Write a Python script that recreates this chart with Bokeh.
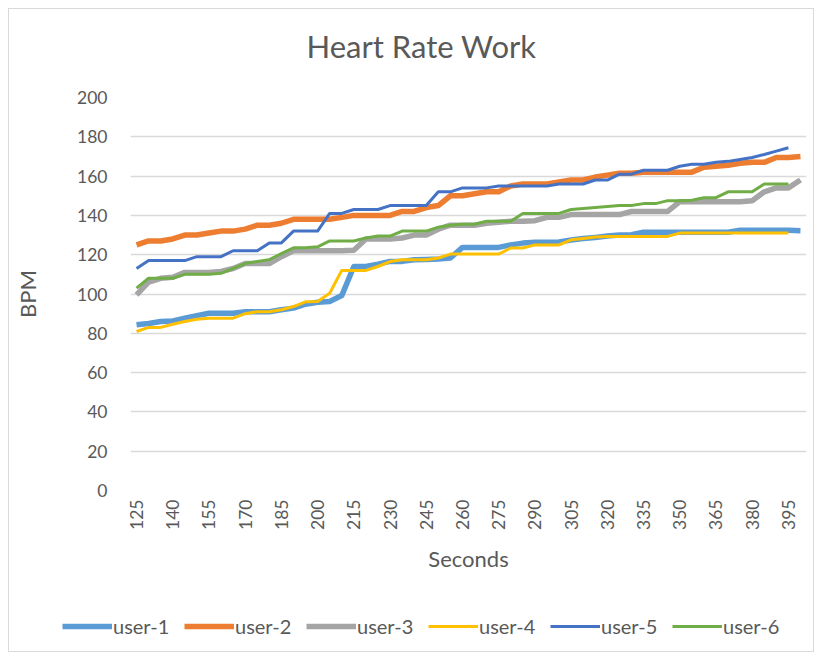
import math
from bokeh.plotting import figure
from bokeh.layouts import column
from bokeh.models import FixedTicker, Legend, LegendItem, Range1d, Label
from bokeh.embed import file_html
from bokeh.resources import INLINE

# ---- data -------------------------------------------------------------
seconds = list(range(125, 405, 5))          # 125 .. 400, every 5 s
tick_seconds = list(range(125, 400, 15))    # labelled ticks 125 .. 395
bpm_ticks = list(range(0, 201, 20))

user_1 = [84.3, 85, 86, 86.3, 87.7, 89, 90.2, 90.2, 90.2, 91,
          91, 91, 92, 92.8, 94.8, 95.8, 96.2, 99.2, 114, 114,
          115.2, 116.6, 116.6, 117.4, 117.6, 117.8, 118.3, 123.7, 123.7, 123.7,
          123.7, 125, 125.9, 126.3, 126.3, 126.5, 127.5, 128.2, 128.8, 129.5,
          130, 130.2, 131.4, 131.4, 131.4, 131.4, 131.4, 131.4, 131.4, 131.4,
          132.4, 132.4, 132.4, 132.4, 132.4, 132.2]
user_2 = [125, 127, 127, 128, 130, 130, 131, 132, 132, 133,
          135, 135, 136, 138, 138, 138, 138, 139, 140, 140,
          140, 140, 142, 142, 144, 145, 150, 150, 151, 152,
          152, 155, 156, 156, 156, 157, 158, 158, 159.5, 160.5,
          161.5, 161.5, 162, 162, 162, 162, 162, 164.5, 165, 165.5,
          166.5, 167, 167, 169.5, 169.5, 170]
user_3 = [99.5, 106, 108, 108.5, 111, 111, 111, 111.5, 113, 115.5,
          115.5, 115.5, 119, 122, 122, 122, 122, 122, 122.3, 128,
          128, 128, 128.5, 130, 130, 133, 135, 135, 135, 136,
          136.5, 137, 137, 137.3, 139, 139, 140.4, 140.4, 140.4, 140.4,
          140.4, 142, 142, 142, 142, 147, 147, 147, 147, 147,
          147, 147.5, 152, 154, 154, 158]
user_4 = [80.9, 83, 83, 84.6, 86, 87.1, 87.7, 87.7, 87.7, 90,
          91, 91, 92, 93.6, 96, 96.2, 100.4, 112, 112, 112,
          114, 116.5, 117.4, 117.4, 117.4, 118.3, 120.3, 120.3, 120.3, 120.3,
          120.3, 123.4, 123.4, 125, 125, 125, 127.6, 128.3, 129, 129.3,
          129.3, 129.3, 129.3, 129.3, 129.3, 131, 131, 131, 131, 131,
          131, 131, 131, 131, 131]
user_5 = [113, 117, 117, 117, 117, 119, 119, 119, 122, 122,
          122, 126, 126, 132, 132, 132, 141, 141, 143, 143,
          143, 145, 145, 145, 145, 152, 152, 154, 154, 154,
          155, 155, 155, 155, 155, 156, 156, 156, 158, 158,
          161, 161, 163, 163, 163, 165, 166, 166, 167, 167.5,
          168.5, 169.5, 171, 172.7, 174.4]
user_6 = [103, 108, 108, 108, 110, 110, 110, 110.5, 113, 115.5,
          116.5, 117.5, 120.5, 123.5, 123.5, 124, 127, 127, 127, 128.5,
          129.5, 129.5, 132, 132, 132, 134, 135, 135.5, 135.5, 137,
          137, 137, 141, 141, 141, 141, 143, 143.5, 144, 144.5,
          145, 145, 146, 146, 147.5, 147.5, 147.7, 149, 149, 152,
          152, 152, 156, 156, 156]

series_names = ["user-1", "user-2", "user-3", "user-4", "user-5", "user-6"]
series_values = [user_1, user_2, user_3, user_4, user_5, user_6]
series_colors = ["#5B9BD5", "#ED7D31", "#A5A5A5", "#FFC000", "#4472C4", "#70AD47"]
series_widths = [5.5, 5.5, 5.5, 3, 3, 3]

chart_title = "Heart Rate Work"
TEXT = "#595959"
FONT = "Lato"

W = 804
TITLE_H = 70

# ---- title strip ------------------------------------------------------
t = figure(width=W, height=TITLE_H, output_backend="svg", toolbar_location=None,
           x_range=Range1d(0, W), y_range=Range1d(0, TITLE_H),
           x_axis_location=None, y_axis_location=None, title=None,
           min_border_left=0, min_border_right=0, min_border_top=0, min_border_bottom=0,
           background_fill_color="white", border_fill_color="white")
t.frame_align = False
t.grid.visible = False
t.outline_line_color = None
t.add_layout(Label(x=412, y=34, text=chart_title, text_align="center",
                   text_baseline="alphabetic", text_font=FONT,
                   text_font_size="31px", text_color=TEXT))

# ---- main chart -------------------------------------------------------
p = figure(width=W, height=525, output_backend="svg", toolbar_location=None,
           x_range=Range1d(122.5, 402.5), y_range=Range1d(0, 200), title=None,
           min_border_left=121, min_border_right=7,
           min_border_top=18, min_border_bottom=114,
           background_fill_color="white", border_fill_color="white")

p.outline_line_color = None
p.xgrid.visible = False
p.ygrid.grid_line_color = "#d9d9d9"
p.ygrid.grid_line_width = 1.5

p.xaxis.ticker = FixedTicker(ticks=tick_seconds)
p.yaxis.ticker = FixedTicker(ticks=bpm_ticks)
p.xaxis.major_label_orientation = math.pi / 2
p.axis.axis_line_color = None
p.axis.major_tick_line_color = None
p.axis.minor_tick_line_color = None
p.axis.major_label_text_font = FONT
p.axis.major_label_text_font_size = "17.5px"
p.axis.major_label_text_color = TEXT
p.xaxis.major_label_standoff = 3
p.yaxis.major_label_standoff = 17

p.xaxis.axis_label = "Seconds"
p.yaxis.axis_label = "BPM"
p.axis.axis_label_text_font = FONT
p.axis.axis_label_text_font_size = "22px"
p.axis.axis_label_text_font_style = "normal"
p.axis.axis_label_text_color = TEXT
p.xaxis.axis_label_standoff = 12
p.yaxis.axis_label_standoff = 33

for name, vals, col, w in zip(series_names, series_values, series_colors, series_widths):
    p.line(seconds[:len(vals)], vals, line_color=col, line_width=w, line_join="round")

# ---- legend strip -----------------------------------------------------
q = figure(width=W, height=47, output_backend="svg", toolbar_location=None,
           x_range=Range1d(0, 1), y_range=Range1d(0, 1),
           x_axis_location=None, y_axis_location=None, title=None,
           min_border_left=0, min_border_right=0, min_border_top=0, min_border_bottom=0,
           background_fill_color="white", border_fill_color="white")
q.frame_align = False
q.grid.visible = False
q.outline_line_color = None

nan = float("nan")
items = []
for name, col, w in zip(series_names, series_colors, series_widths):
    r = q.line([nan], [nan], line_color=col, line_width=w)
    items.append(LegendItem(label=name, renderers=[r]))

legend = Legend(items=items, orientation="horizontal", location=(53, 13),
                label_text_font=FONT, label_text_font_size="20px",
                label_text_color=TEXT, glyph_width=50, glyph_height=20,
                label_standoff=1, label_width=58, spacing=13, padding=0, margin=0,
                border_line_color=None, background_fill_alpha=0)
q.add_layout(legend)

layout = column(t, p, q, spacing=0)
layout.styles = {"margin": "8px", "border": "1px solid #d9d9d9"}

open("out.html", "w").write(file_html(layout, INLINE))
